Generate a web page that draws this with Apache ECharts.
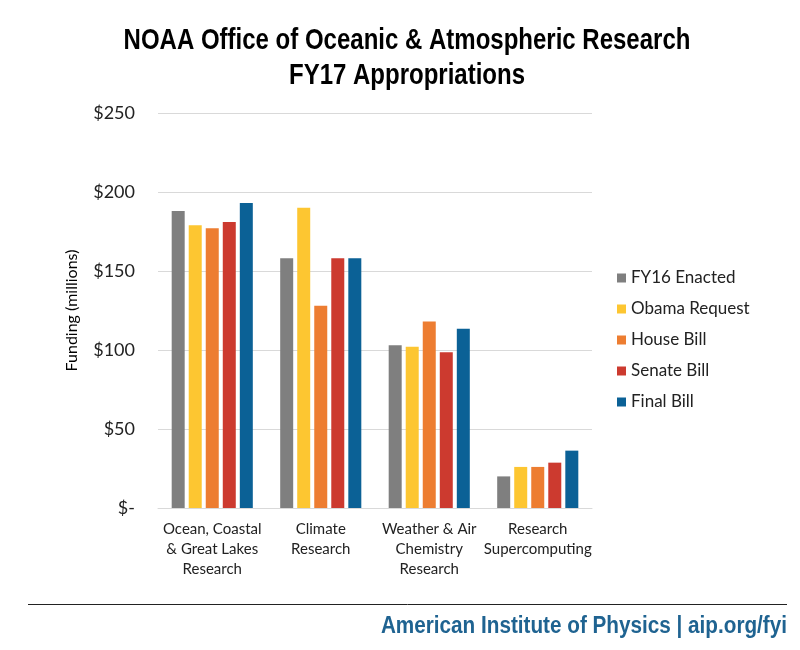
<!DOCTYPE html>
<html><head><meta charset="utf-8">
<script src="https://cdn.jsdelivr.net/npm/echarts@6/dist/echarts.min.js"></script>
<style>html,body{margin:0;padding:0;background:#fff}#c{width:800px;height:650px}</style>
</head><body><div id="c"></div>
<script>
var categories = ['Ocean, Coastal\n& Great Lakes\nResearch', 'Climate\nResearch', 'Weather & Air\nChemistry\nResearch', 'Research\nSupercomputing'];
var seriesNames = ['FY16 Enacted', 'Obama Request', 'House Bill', 'Senate Bill', 'Final Bill'];
var fy16 = [188, 158, 103, 20];
var obama = [179, 190, 102, 26];
var house = [177, 128, 118, 26];
var senate = [181, 158, 98.5, 28.7];
var finalBill = [193, 158, 113.5, 36.3];
var yTicks = [0, 50, 100, 150, 200, 250];
var colors = ['#7f7f7f', '#fdc631', '#ed7d31', '#cc3a2f', '#0b6196'];

var values = [fy16, obama, house, senate, finalBill];
var chart = echarts.init(document.getElementById('c'));
var bodyFont = 'Lato, "Open Sans", sans-serif';
var condFont = '"Liberation Sans", Arial, sans-serif';
chart.setOption({
  animation: false,
  color: colors,
  legend: {
    orient: 'vertical', left: 612, top: 263,
    icon: 'rect', itemWidth: 9, itemHeight: 9, itemGap: 11,
    textStyle: { fontFamily: bodyFont, fontSize: 17, lineHeight: 20, color: '#222' },
    data: seriesNames
  },
  grid: { left: 158, right: 208, top: 113, bottom: 142 },
  xAxis: {
    type: 'category', data: categories,
    axisTick: { show: false },
    axisLine: { lineStyle: { color: '#d9d9d9' } },
    axisLabel: { fontFamily: bodyFont, fontSize: 15, lineHeight: 20, color: '#222', margin: 11, interval: 0 }
  },
  yAxis: {
    type: 'value', min: yTicks[0], max: yTicks[yTicks.length - 1], interval: yTicks[1] - yTicks[0],
    name: 'Funding (millions)', nameLocation: 'middle', nameGap: 78,
    nameTextStyle: { fontFamily: bodyFont, fontSize: 16, color: '#000' },
    axisLabel: { fontFamily: bodyFont, fontSize: 18, color: '#222', margin: 23,
      formatter: function (v) { return v === 0 ? '$-' : '$' + v; } },
    splitLine: { lineStyle: { color: '#d9d9d9' } }
  },
  series: seriesNames.map(function (n, i) {
    return { name: n, type: 'bar', data: values[i], barWidth: 13, barGap: '31%' };
  }),
  graphic: [
    { type: 'text', x: 407, y: 41, scaleX: 0.8,
      style: { text: 'NOAA Office of Oceanic & Atmospheric Research', textAlign: 'center', textVerticalAlign: 'middle', fontFamily: condFont, fontWeight: 'bold', fontSize: 30, fill: '#000' } },
    { type: 'text', x: 407, y: 76, scaleX: 0.8,
      style: { text: 'FY17 Appropriations', textAlign: 'center', textVerticalAlign: 'middle', fontFamily: condFont, fontWeight: 'bold', fontSize: 30, fill: '#000' } },
    { type: 'line', shape: { x1: 28, y1: 604.5, x2: 787, y2: 604.5 }, style: { stroke: '#222', lineWidth: 1 } },
    { type: 'text', x: 787, y: 627, scaleX: 0.9,
      style: { text: 'American Institute of Physics | aip.org/fyi', textAlign: 'right', textVerticalAlign: 'middle', fontFamily: condFont, fontWeight: 'bold', fontSize: 23, fill: '#1f6391' } }
  ]
});
</script></body></html>
